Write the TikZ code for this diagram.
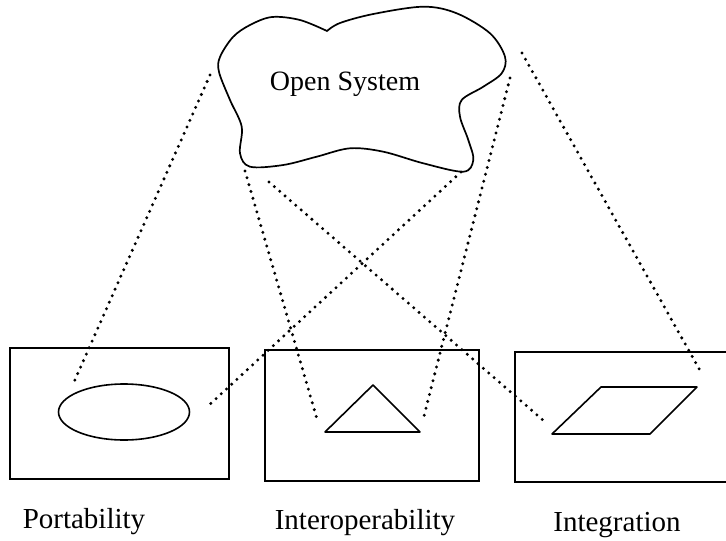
\documentclass[tikz,border=0pt]{standalone}
\usepackage{fontspec}
\setmainfont{Liberation Serif}
\usetikzlibrary{shapes.geometric}

\tikzset{
  panel/.style={draw, line width=1.5pt, rectangle, inner sep=0pt, outer sep=0pt},
  label/.style={font=\fontsize{29}{34}\selectfont, inner sep=0pt, anchor=base},
  outline/.style={draw, line width=1.6pt, line join=round},
  link/.style={line width=3.3pt, line cap=round, dash pattern=on 0pt off 7.1pt},
}

\begin{document}
\begin{tikzpicture}[x=1pt, y=-1pt]
  \useasboundingbox (0,0) rectangle (726,541);

  % the cloud, with its one sharp notch at the top
  \draw[line width=1.7pt, line join=miter] plot[smooth, tension=0.55] coordinates {
    (327,31)
    (340,23) (373.3,14) (423.3,6.7) (456.7,13.3) (490,33.3) (505,56.7)
    (501.7,73.3) (483.3,86.7) (461.7,100) (460,116.7) (468.3,140) (473.3,160)
    (463.3,171.7) (423.3,163.3) (383.3,151.7) (350,148.3) (316.7,156.7)
    (283.3,165) (250,166.7) (240,153.3) (241.7,126.7) (230,100) (219,72)
    (220,57) (233,37) (250,25) (272,17) (300,20)
    (327,31)} -- cycle;
  \node[font=\fontsize{28}{33}\selectfont, inner sep=0pt, anchor=base] (sys) at (345,90) {Open System};

  % the three panels
  \node[panel, minimum width=219pt, minimum height=131pt] (port) at (119.5,413.5) {};
  \node[panel, minimum width=214pt, minimum height=131pt] (inter) at (372,415.5) {};
  \node[panel, minimum width=225pt, minimum height=130pt] (integ) at (627.5,417) {};

  % shapes inside the panels
  \node[ellipse, outline, minimum width=131pt, minimum height=56pt, inner sep=0pt] (ell) at (124,412) {};
  \coordinate (tA) at (373,385);
  \coordinate (tB) at (325,432);
  \coordinate (tC) at (420,432);
  \draw[outline] (tA) -- (tB) -- (tC) -- cycle;
  \coordinate (pA) at (601,387);
  \coordinate (pB) at (697,387);
  \coordinate (pC) at (650,434);
  \coordinate (pD) at (552,434);
  \draw[outline] (pA) -- (pB) -- (pC) -- (pD) -- cycle;

  % labels
  \node[label] (lport) at (84,528) {Portability};
  \node[label] (linter) at (365,529) {Interoperability};
  \node[label] (linteg) at (617,531) {Integration};

  % end points of the dotted links
  \coordinate (a1) at (210,75);   \coordinate (b1) at (74,382);
  \coordinate (a2) at (461,172);  \coordinate (b2) at (207,407);
  \coordinate (a3) at (245,171);  \coordinate (b3) at (317,419);
  \coordinate (a4) at (269,182);  \coordinate (b4) at (544,421);
  \coordinate (a5) at (510,78);   \coordinate (b5) at (423,420);
  \coordinate (a6) at (522,53);   \coordinate (b6) at (702,374);

  \draw[link] (a1) -- (b1);
  \draw[link] (a2) -- (b2);
  \draw[link] (a3) -- (b3);
  \draw[link] (a4) -- (b4);
  \draw[link] (a5) -- (b5);
  \draw[link] (a6) -- (b6);
\end{tikzpicture}
\end{document}
